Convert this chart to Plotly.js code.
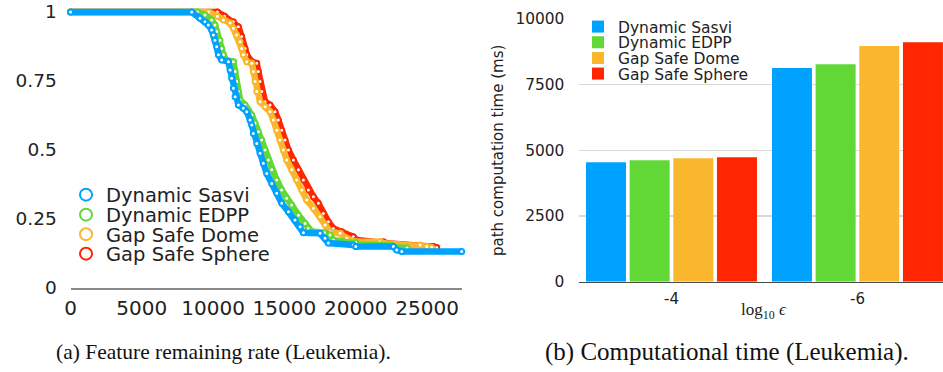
<!DOCTYPE html>
<html><head><meta charset="utf-8">
<script src="https://cdn.plot.ly/plotly-3.0.1.min.js"></script>
<style>html,body{margin:0;padding:0;background:#fff}#chart{width:943px;height:372px}</style>
</head><body><div id="chart"></div>
<script>
// ---------- data: (a) feature remaining rate ----------
const seriesNames = ['Dynamic Sasvi', 'Dynamic EDPP', 'Gap Safe Dome', 'Gap Safe Sphere'];

const sasviX = [0, 8500, 9080, 9430, 9660, 9900, 10020, 10130, 10250, 10370, 10600, 11070, 11190, 11300, 11420, 11540, 11770, 12120, 12360, 12590, 12710, 12820, 13060, 13290, 13520, 13760, 14110, 14460, 14810, 15280, 15740, 16100, 16330, 17500, 17850, 18080, 19830, 20000, 22640, 22870, 23230, 27430];
const sasviY = [1, 1, 0.977, 0.965, 0.953, 0.935, 0.917, 0.898, 0.874, 0.845, 0.826, 0.82, 0.79, 0.76, 0.724, 0.693, 0.663, 0.651, 0.639, 0.609, 0.591, 0.56, 0.524, 0.488, 0.452, 0.415, 0.379, 0.343, 0.307, 0.276, 0.246, 0.222, 0.2, 0.198, 0.18, 0.163, 0.156, 0.15, 0.15, 0.138, 0.132, 0.132];

const edppX = [0, 8900, 9430, 9900, 10130, 10250, 10480, 10600, 10720, 10900, 11420, 11540, 11650, 11770, 11890, 12240, 12470, 12710, 12940, 13170, 13410, 13640, 13870, 14110, 14460, 14810, 15160, 15510, 15980, 16450, 16680, 16900, 17800, 18200, 18430, 20000, 20300, 22500, 22700, 23600];
const edppY = [1, 1, 0.989, 0.971, 0.953, 0.929, 0.898, 0.868, 0.845, 0.826, 0.82, 0.784, 0.748, 0.712, 0.681, 0.663, 0.645, 0.627, 0.597, 0.566, 0.536, 0.5, 0.464, 0.428, 0.391, 0.355, 0.325, 0.301, 0.264, 0.234, 0.216, 0.205, 0.2, 0.192, 0.174, 0.165, 0.158, 0.155, 0.148, 0.145];

const domeX = [0, 9700, 10300, 10720, 11190, 11420, 11650, 11890, 12000, 12120, 12360, 12710, 12820, 12940, 13060, 13290, 13640, 13990, 14220, 14460, 14690, 14920, 15160, 15510, 15860, 16220, 16560, 17030, 17500, 17850, 18200, 18900, 19370, 19950, 21700, 21940, 24510, 24980, 25330];
const domeY = [1, 1, 0.985, 0.971, 0.96, 0.941, 0.917, 0.892, 0.868, 0.845, 0.82, 0.814, 0.784, 0.748, 0.712, 0.675, 0.657, 0.639, 0.609, 0.572, 0.536, 0.5, 0.464, 0.428, 0.391, 0.355, 0.319, 0.289, 0.258, 0.228, 0.204, 0.198, 0.18, 0.168, 0.168, 0.162, 0.156, 0.15, 0.147];

const sphereX = [0, 10300, 10800, 11420, 11770, 12000, 12240, 12360, 12710, 13060, 13170, 13290, 13410, 13640, 13990, 14340, 14570, 14810, 15040, 15280, 15630, 15980, 16330, 16680, 17030, 17380, 17730, 18080, 18430, 19020, 19830, 20070, 21940, 22170, 25450, 25680];
const sphereY = [1, 1, 0.985, 0.965, 0.947, 0.911, 0.868, 0.845, 0.82, 0.814, 0.784, 0.748, 0.712, 0.675, 0.663, 0.639, 0.609, 0.572, 0.536, 0.5, 0.464, 0.428, 0.391, 0.355, 0.331, 0.307, 0.27, 0.24, 0.216, 0.204, 0.186, 0.174, 0.168, 0.162, 0.15, 0.147];

const rateTickVals = [0, 0.25, 0.5, 0.75, 1];
const rateTickText = ['0', '0.25', '0.5', '0.75', '1'];
const iterTickVals = [0, 5000, 10000, 15000, 20000, 25000];
const iterTickText = ['0', '5000', '10000', '15000', '20000', '25000'];

// ---------- data: (b) computational time ----------
const epsCategories = ['-4', '-6'];
const timeSasvi = [4545, 8135];
const timeEdpp = [4621, 8276];
const timeDome = [4697, 8972];
const timeSphere = [4735, 9113];
const timeTickVals = [0, 2500, 5000, 7500, 10000];
const timeTickText = ['0', '2500', '5000', '7500', '10000'];

const captionA = '(a) Feature remaining rate (Leukemia).';
const captionB = '(b) Computational time (Leukemia).';
const epsTitle = 'log<sub>10</sub> <i>ϵ</i>';
const timeTitle = 'path computation time (ms)';

// ---------- styling ----------
const W = 943, H = 372;
const fx = p => p / W;
const fy = p => 1 - p / H;
const colors = ['#00A2FF', '#61D836', '#FAB62C', '#FF2600'];
const SANS = 'DejaVu Sans';
const SERIF = 'Liberation Serif';
const TXT = '#222222';

const rateX = [sasviX, edppX, domeX, sphereX];
const rateY = [sasviY, edppY, domeY, sphereY];
const times = [timeSasvi, timeEdpp, timeDome, timeSphere];

const traces = [];
// draw Sphere first, Sasvi last (on top)
for (let i = 3; i >= 0; i--) {
  traces.push({
    type: 'scatter', mode: 'lines', x: rateX[i], y: rateY[i],
    xaxis: 'x', yaxis: 'y', showlegend: false, hoverinfo: 'skip',
    line: {color: colors[i], width: 6.5}, cliponaxis: false
  });
  traces.push({
    type: 'scatter', mode: 'markers', x: rateX[i], y: rateY[i], name: seriesNames[i],
    xaxis: 'x', yaxis: 'y', legend: i === 0 ? 'legend' : 'legend' + (i + 1),
    marker: {symbol: 'circle', size: 5, color: '#ffffff', line: {color: colors[i], width: 2}},
    cliponaxis: false
  });
}
for (let i = 0; i < 4; i++) {
  traces.push({
    type: 'bar', x: epsCategories, y: times[i], name: seriesNames[i],
    xaxis: 'x2', yaxis: 'y2', legend: 'legend' + (i + 5),
    marker: {color: colors[i], line: {width: 0}}
  });
}

const leftRows = [195, 215, 234.5, 254];
const rightRows = [27, 42.7, 58.4, 74];
const layout = {
  width: W, height: H,
  margin: {l: 0, r: 0, t: 0, b: 0, autoexpand: false},
  paper_bgcolor: '#ffffff', plot_bgcolor: 'rgba(0,0,0,0)',
  font: {family: SANS, color: TXT},
  showlegend: true,
  barmode: 'group', bargap: 0.061, bargroupgap: 0.084,
  xaxis: {
    domain: [fx(70.5), fx(461.7)], range: [0, 27430], anchor: 'y',
    showline: true, linecolor: '#8a8a8a', linewidth: 1.5,
    showgrid: false, zeroline: false,
    tickmode: 'array', tickvals: iterTickVals, ticktext: iterTickText,
    ticks: '', ticklabelstandoff: 1,
    tickfont: {family: SANS, size: 20, color: TXT}
  },
  yaxis: {
    domain: [fy(288), fy(3.72)], range: [0, 1.03], anchor: 'x',
    showline: false, showgrid: false, zeroline: false,
    tickmode: 'array', tickvals: rateTickVals, ticktext: rateTickText,
    ticks: 'outside', ticklen: 9, tickcolor: 'rgba(0,0,0,0)',
    tickfont: {family: SANS, size: 18.5, color: TXT}
  },
  xaxis2: {
    domain: [fx(578.5), 1], type: 'category', range: [-0.5, 1.46], anchor: 'y2',
    showline: true, linecolor: '#4a4a4a', linewidth: 1.5,
    showgrid: false, zeroline: false,
    ticks: 'outside', ticklen: 3, tickcolor: 'rgba(0,0,0,0)',
    tickfont: {family: SANS, size: 15, color: TXT}
  },
  yaxis2: {
    domain: [fy(281.7), fy(19)], range: [0, 10000], anchor: 'x2',
    showline: false, zeroline: false,
    showgrid: true, gridcolor: '#d9d9d9', gridwidth: 1.5,
    tickmode: 'array', tickvals: timeTickVals, ticktext: timeTickText,
    ticks: 'outside', ticklen: 10, tickcolor: 'rgba(0,0,0,0)',
    tickfont: {family: SANS, size: 15.4, color: TXT},
    title: {text: timeTitle, font: {family: SANS, size: 15, color: TXT}, standoff: 8}
  },
  annotations: [
    {text: epsTitle, xref: 'paper', yref: 'paper', x: fx(763.5), y: fy(311), xanchor: 'center', yanchor: 'middle',
     showarrow: false, font: {family: SERIF, size: 17, color: TXT}},
    {text: captionA, xref: 'paper', yref: 'paper', x: fx(223.5), y: fy(352), xanchor: 'center', yanchor: 'middle',
     showarrow: false, font: {family: SERIF, size: 21.5, color: '#111'}},
    {text: captionB, xref: 'paper', yref: 'paper', x: fx(727), y: fy(352), xanchor: 'center', yanchor: 'middle',
     showarrow: false, font: {family: SERIF, size: 25, color: '#111'}}
  ]
};
for (let i = 0; i < 4; i++) {
  const key = i === 0 ? 'legend' : 'legend' + (i + 1);
  layout[key] = {
    x: fx(66), y: fy(leftRows[i]), xanchor: 'left', yanchor: 'middle',
    bgcolor: 'rgba(0,0,0,0)', borderwidth: 0, itemsizing: 'constant',
    font: {family: SANS, size: 19.5, color: TXT}
  };
  layout['legend' + (i + 5)] = {
    x: fx(578), y: fy(rightRows[i]), xanchor: 'left', yanchor: 'middle',
    bgcolor: 'rgba(0,0,0,0)', borderwidth: 0,
    font: {family: SANS, size: 15.5, color: TXT}
  };
}
Plotly.newPlot('chart', traces, layout, {displayModeBar: false, staticPlot: true});
</script>
</body></html>
